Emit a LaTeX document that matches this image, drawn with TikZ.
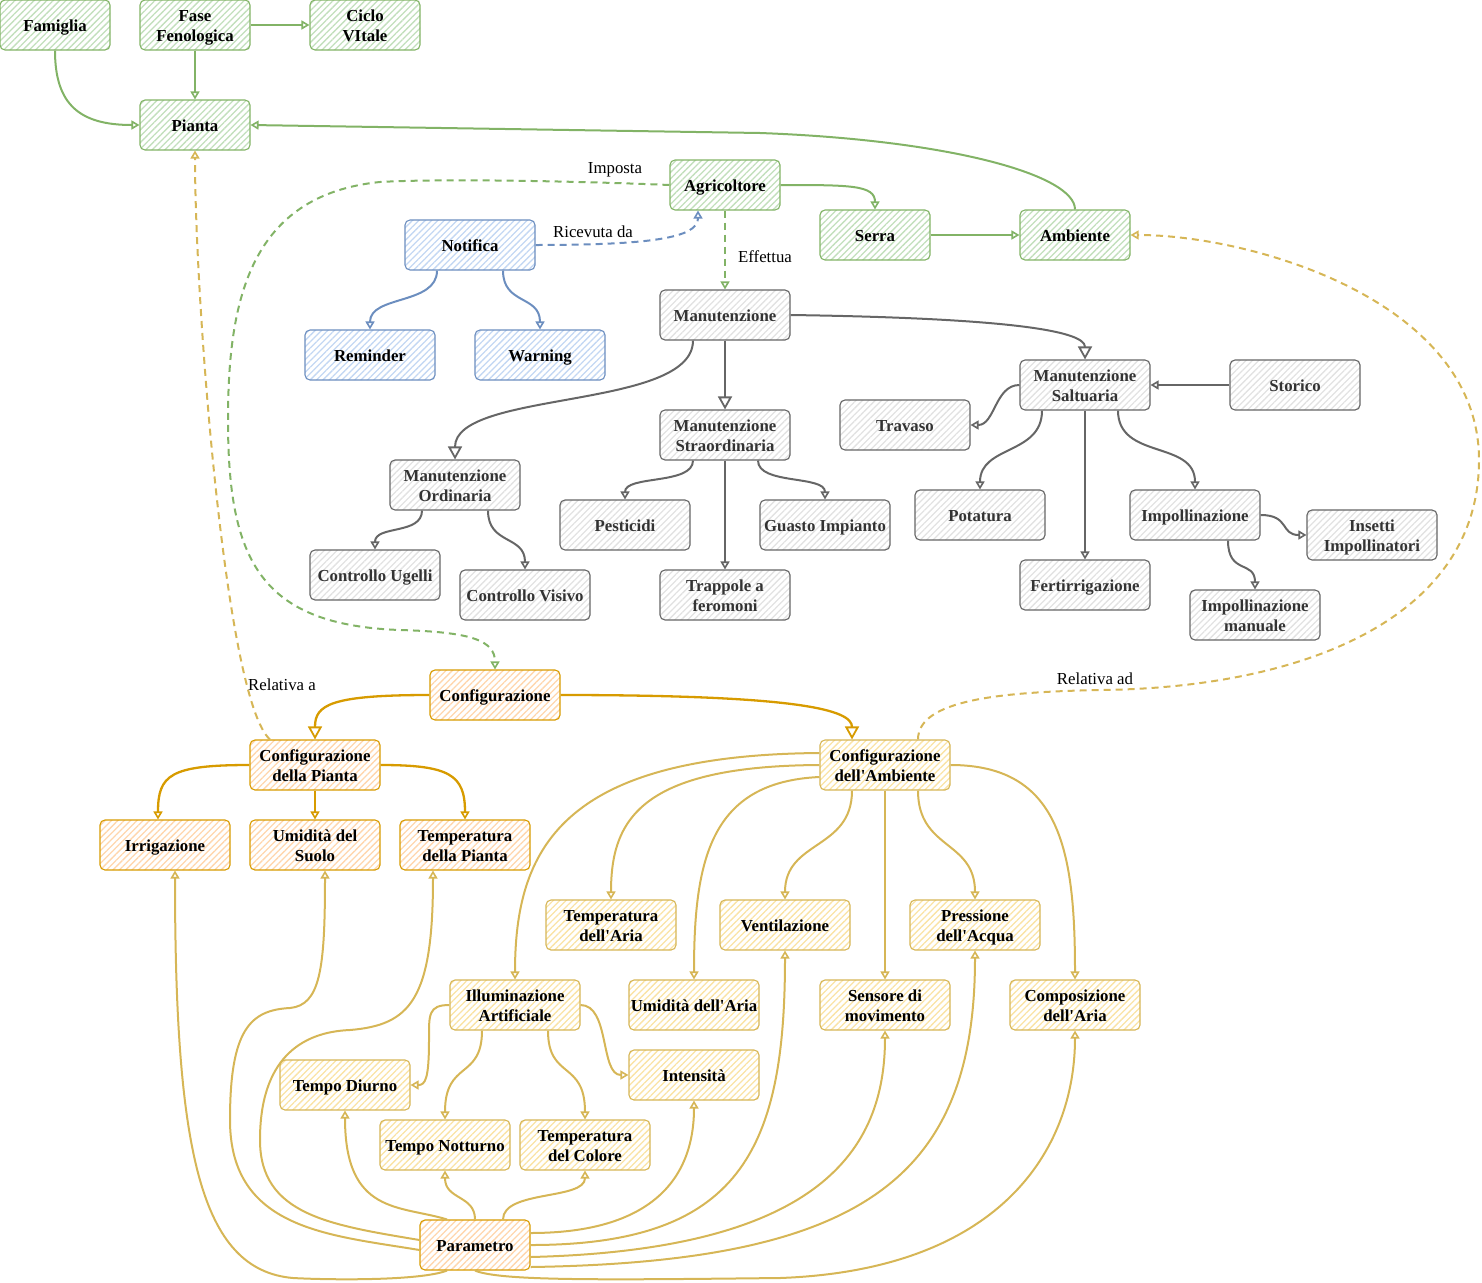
\documentclass[tikz,border=0pt]{standalone}
\usepackage{fontspec}
\setmainfont{Liberation Serif}[Ligatures=TeXOff]
\usetikzlibrary{arrows.meta,patterns.meta}
\definecolor{gS}{HTML}{82B366}
\definecolor{gH}{HTML}{C2DFBC}
\definecolor{bS}{HTML}{6C8EBF}
\definecolor{bH}{HTML}{C3D7F3}
\definecolor{kS}{HTML}{666666}
\definecolor{kH}{HTML}{E2E2E2}
\definecolor{kT}{HTML}{333333}
\definecolor{oS}{HTML}{D79B00}
\definecolor{oH}{HTML}{FFD6AD}
\definecolor{yS}{HTML}{D6B656}
\definecolor{yH}{HTML}{FAE3A5}
\newcommand\myNodeFont{\fontsize{16.8}{20}\selectfont\bfseries}
\newcommand\myLblFont{\fontsize{16.8}{20}\selectfont}
\newcommand\myStrut{\rule[-4pt]{0pt}{20pt}}
\newcommand\twol[2]{\raisebox{0pt}[16pt][24pt]{\vtop{\halign{\hfil##\hfil\cr#1\cr#2\cr}}}}
\begin{document}
\begin{tikzpicture}[x=1pt,y=-1pt,
  base/.style={rounded corners=5pt, minimum height=50pt, inner sep=1pt, line width=1.1pt, font=\myNodeFont,
    execute at begin node=\myStrut},
  w110/.style={minimum width=110pt},
  w130/.style={minimum width=130pt},
  gbox/.style={base, draw=gS, pattern={Lines[angle=45,distance=4.5pt,line width=1.3pt]}, pattern color=gH},
  bbox/.style={base, draw=bS, pattern={Lines[angle=45,distance=4.5pt,line width=1.3pt]}, pattern color=bH},
  kbox/.style={base, draw=kS, text=kT, pattern={Lines[angle=45,distance=4.5pt,line width=1.3pt]}, pattern color=kH},
  obox/.style={base, draw=oS, pattern={Lines[angle=45,distance=4.5pt,line width=1.3pt]}, pattern color=oH},
  ybox/.style={base, draw=yS, pattern={Lines[angle=45,distance=4.5pt,line width=1.3pt]}, pattern color=yH},
  edge/.style={line width=2pt, -{Triangle[open,length=8pt,width=9pt,line width=1.6pt]}},
  blk/.style={-{Triangle[length=13pt,width=14pt,fill=white,line width=1.8pt]}},
  dsh/.style={dash pattern=on 7pt off 5pt},
  ge/.style={edge, draw=gS},
  be/.style={edge, draw=bS},
  ke/.style={edge, draw=kS},
  oe/.style={edge, draw=oS, line width=2.3pt},
  ye/.style={edge, draw=yS},
  lbl/.style={font=\myLblFont, inner sep=0pt}
]
\useasboundingbox (0,0) rectangle (1482,1282);

% green
\node[gbox,w110] (fam) at (55,25) {Famiglia};
\node[gbox,w110] (fase) at (195,25) {\twol{Fase}{Fenologica}};
\node[gbox,w110] (ciclo) at (365,25) {\twol{Ciclo}{VItale}};
\node[gbox,w110] (pianta) at (195,125) {Pianta};
\node[gbox,w110] (agri) at (725,185) {Agricoltore};
\node[gbox,w110] (serra) at (875,235) {Serra};
\node[gbox,w110] (amb) at (1075,235) {Ambiente};
% blue
\node[bbox,w130] (notif) at (470,245) {Notifica};
\node[bbox,w130] (remind) at (370,355) {Reminder};
\node[bbox,w130] (warn) at (540,355) {Warning};
% gray
\node[kbox,w130] (manut) at (725,315) {Manutenzione};
\node[kbox,w130] (salt) at (1085,385) {\twol{Manutenzione}{Saltuaria}};
\node[kbox,w130] (stor) at (1295,385) {Storico};
\node[kbox,w130] (trav) at (905,425) {Travaso};
\node[kbox,w130] (straord) at (725,435) {\twol{Manutenzione}{Straordinaria}};
\node[kbox,w130] (ord) at (455,485) {\twol{Manutenzione}{Ordinaria}};
\node[kbox,w130] (pest) at (625,525) {Pesticidi};
\node[kbox,w130] (guasto) at (825,525) {Guasto Impianto};
\node[kbox,w130] (potat) at (980,515) {Potatura};
\node[kbox,w130] (impoll) at (1195,515) {Impollinazione};
\node[kbox,w130] (insetti) at (1372,535) {\twol{Insetti}{Impollinatori}};
\node[kbox,w130] (ugelli) at (375,575) {Controllo Ugelli};
\node[kbox,w130] (visivo) at (525,595) {Controllo Visivo};
\node[kbox,w130] (trap) at (725,595) {\twol{Trappole a}{feromoni}};
\node[kbox,w130] (fert) at (1085,585) {Fertirrigazione};
\node[kbox,w130] (impman) at (1255,615) {\twol{Impollinazione}{manuale}};
% orange
\node[obox,w130] (conf) at (495,695) {Configurazione};
\node[obox,w130] (cpianta) at (315,765) {\twol{Configurazione}{della Pianta}};
\node[obox,w130] (irr) at (165,845) {Irrigazione};
\node[obox,w130] (suolo) at (315,845) {\twol{Umidità del}{Suolo}};
\node[obox,w130] (tpianta) at (465,845) {\twol{Temperatura}{della Pianta}};
\node[obox,w110] (param) at (475,1245) {Parametro};
% yellow
\node[ybox,w130] (camb) at (885,765) {\twol{Configurazione}{dell'Ambiente}};
\node[ybox,w130] (taria) at (611,925) {\twol{Temperatura}{dell'Aria}};
\node[ybox,w130] (vent) at (785,925) {Ventilazione};
\node[ybox,w130] (press) at (975,925) {\twol{Pressione}{dell'Acqua}};
\node[ybox,w130] (illum) at (515,1005) {\twol{Illuminazione}{Artificiale}};
\node[ybox,w130] (uaria) at (694,1005) {Umidità dell'Aria};
\node[ybox,w130] (sens) at (885,1005) {\twol{Sensore di}{movimento}};
\node[ybox,w130] (comp) at (1075,1005) {\twol{Composizione}{dell'Aria}};
\node[ybox,w130] (diurno) at (345,1085) {Tempo Diurno};
\node[ybox,w130] (intens) at (694,1075) {Intensità};
\node[ybox,w130] (nott) at (445,1145) {Tempo Notturno};
\node[ybox,w130] (tcol) at (585,1145) {\twol{Temperatura}{del Colore}};

% green edges
\draw[ge] (fam.south) .. controls (55,105) and (80,125) .. (pianta.west);
\draw[ge] (fase.south) -- (pianta.north);
\draw[ge] (fase.east) -- (ciclo.west);
\draw[ge] (amb.north) .. controls (1075,175) and (950,140) .. (760,133) -- (pianta.east);
\draw[ge] (agri.east) .. controls (850,185) and (875,185) .. (serra.north);
\draw[ge] (serra.east) -- (amb.west);
\draw[ge,dsh] (agri.west) .. controls (600,182) and (450,178) .. (380,182) .. controls (250,195) and (228,300) .. (228,420) .. controls (228,560) and (260,625) .. (400,630) .. controls (470,632) and (495,640) .. (conf.north);
\node[lbl] (limposta) at (615,170) {Imposta};
\draw[ge,dsh] (agri.south) -- (manut.north);
\node[lbl] (leffettua) at (765,257) {Effettua};

% blue edges
\draw[be,dsh] (notif.east) .. controls (650,245) and (698,238) .. ([xshift=-27pt]agri.south);
\node[lbl] (lricevuta) at (593,232) {Ricevuta da};
\draw[be] ([xshift=-33pt]notif.south) .. controls (437,305) and (370,295) .. (remind.north);
\draw[be] ([xshift=33pt]notif.south) .. controls (503,305) and (540,295) .. (warn.north);

% gray edges
\draw[ke,blk] (manut.east) .. controls (1000,318) and (1085,330) .. (salt.north);
\draw[ke,blk] (manut.south) -- (straord.north);
\draw[ke,blk] ([xshift=-32pt]manut.south) .. controls (693,410) and (455,390) .. (ord.north);
\draw[ke] (salt.west) .. controls (995,385) and (995,425) .. (trav.east);
\draw[ke] (stor.west) -- (salt.east);
\draw[ke] ([xshift=-43pt]salt.south) .. controls (1042,455) and (980,445) .. (potat.north);
\draw[ke] (salt.south) -- (fert.north);
\draw[ke] ([xshift=33pt]salt.south) .. controls (1118,460) and (1195,440) .. (impoll.north);
\draw[ke] (impoll.east) .. controls (1290,515) and (1280,535) .. (insetti.west);
\draw[ke] ([xshift=33pt]impoll.south) .. controls (1228,575) and (1255,560) .. (impman.north);
\draw[ke] ([xshift=-32pt]straord.south) .. controls (693,485) and (625,475) .. (pest.north);
\draw[ke] (straord.south) -- (trap.north);
\draw[ke] ([xshift=33pt]straord.south) .. controls (758,485) and (825,475) .. (guasto.north);
\draw[ke] ([xshift=-33pt]ord.south) .. controls (422,535) and (375,525) .. (ugelli.north);
\draw[ke] ([xshift=33pt]ord.south) .. controls (488,545) and (525,535) .. (visivo.north);

% orange edges
\draw[oe,blk] (conf.west) .. controls (330,695) and (315,705) .. (cpianta.north);
\draw[oe,blk] (conf.east) .. controls (800,695) and (852,710) .. ([xshift=-33pt]camb.north);
\draw[oe] (cpianta.west) .. controls (170,765) and (158,775) .. ([xshift=-7pt]irr.north);
\draw[oe] (cpianta.south) -- (suolo.north);
\draw[oe] (cpianta.east) .. controls (450,765) and (465,775) .. (tpianta.north);

% yellow dashed
\draw[ye,dsh] ([xshift=-45pt]cpianta.north) .. controls (225,700) and (195,300) .. (pianta.south);
\node[lbl] (lrela) at (282,685) {Relativa a};
\draw[ye,dsh] ([xshift=33pt]camb.north) .. controls (918,700) and (1000,692) .. (1100,690) .. controls (1300,688) and (1479,620) .. (1479,460) .. controls (1479,300) and (1250,235) .. (amb.east);
\node[lbl] (lrelad) at (1095,679) {Relativa ad};

% yellow from Configurazione dell'Ambiente
\draw[ye] ([yshift=12pt]camb.west) .. controls (560,755) and (515,850) .. (illum.north);
\draw[ye] (camb.west) .. controls (640,766) and (611,820) .. (taria.north);
\draw[ye] ([yshift=-12pt]camb.west) .. controls (710,782) and (694,860) .. (uaria.north);
\draw[ye] ([xshift=-33pt]camb.south) .. controls (852,850) and (785,840) .. (vent.north);
\draw[ye] (camb.south) -- (sens.north);
\draw[ye] ([xshift=33pt]camb.south) .. controls (918,850) and (975,840) .. (press.north);
\draw[ye] (camb.east) .. controls (1060,765) and (1075,850) .. (comp.north);

% Illuminazione
\draw[ye] (illum.west) .. controls (428,1005) and (429,1015) .. (429,1040) .. controls (429,1080) and (425,1085) .. (diurno.east);
\draw[ye] ([xshift=-33pt]illum.south) .. controls (482,1080) and (445,1060) .. (nott.north);
\draw[ye] ([xshift=33pt]illum.south) .. controls (548,1080) and (585,1060) .. (tcol.north);
\draw[ye] (illum.east) .. controls (610,1005) and (600,1075) .. (intens.west);

% Parametro
\draw[ye] ([xshift=-28pt]param.south) .. controls (420,1281) and (330,1280) .. (293,1278) .. controls (200,1270) and (175,1150) .. ([xshift=10pt]irr.south);
\draw[ye] ([yshift=-5pt]param.west) .. controls (330,1235) and (230,1230) .. (230,1120) .. controls (230,1030) and (250,1010) .. (290,1008) .. controls (320,1005) and (325,970) .. ([xshift=10pt]suolo.south);
\draw[ye] ([yshift=5pt]param.west) .. controls (330,1225) and (260,1215) .. (260,1140) .. controls (260,1060) and (300,1032) .. (350,1030) .. controls (410,1025) and (433,1000) .. ([xshift=-32pt]tpianta.south);
\draw[ye] ([xshift=-28pt]param.north) .. controls (400,1205) and (345,1215) .. (diurno.south);
\draw[ye] (param.north) .. controls (475,1195) and (445,1200) .. (nott.south);
\draw[ye] ([xshift=28pt]param.north) .. controls (503,1190) and (585,1200) .. (tcol.south);
\draw[ye] ([yshift=12pt]param.east) .. controls (650,1233) and (694,1180) .. (intens.south);
\draw[ye] (param.east) .. controls (740,1245) and (785,1150) .. (vent.south);
\draw[ye] ([yshift=-12pt]param.east) .. controls (820,1250) and (885,1150) .. (sens.south);
\draw[ye] ([yshift=-22pt]param.east) .. controls (860,1262) and (975,1180) .. (press.south);
\draw[ye] (param.south) .. controls (500,1281) and (600,1280) .. (780,1278) .. controls (1000,1270) and (1075,1150) .. (comp.south);
\end{tikzpicture}
\end{document}
